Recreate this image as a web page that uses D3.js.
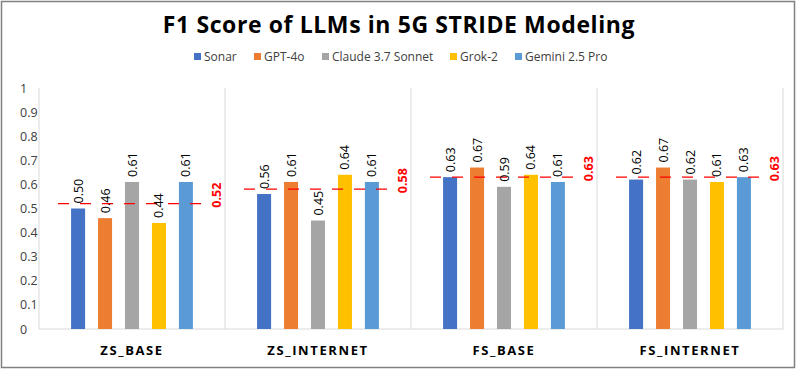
<!DOCTYPE html>
<html>
<head>
<meta charset="utf-8">
<script src="https://cdn.jsdelivr.net/npm/d3@7"></script>
<style>
  body { margin: 0; background: #fff; }
  text { font-family: "Open Sans", "DejaVu Sans", sans-serif; }
</style>
</head>
<body>
<div id="main"></div>
<script>
// data
const categories = ["ZS_BASE", "ZS_INTERNET", "FS_BASE", "FS_INTERNET"];
const models = ["Sonar", "GPT-4o", "Claude 3.7 Sonnet", "Grok-2", "Gemini 2.5 Pro"];
const sonar  = [0.50, 0.56, 0.63, 0.62];
const gpt4o  = [0.46, 0.61, 0.67, 0.67];
const claude = [0.61, 0.45, 0.59, 0.62];
const grok   = [0.44, 0.64, 0.64, 0.61];
const gemini = [0.61, 0.61, 0.61, 0.63];
const averages = [0.52, 0.58, 0.63, 0.63];
const yTicks = [0, 0.1, 0.2, 0.3, 0.4, 0.5, 0.6, 0.7, 0.8, 0.9, 1];

const series = [sonar, gpt4o, claude, grok, gemini];
const colors = ["#4472c4", "#ed7d31", "#a5a5a5", "#ffc000", "#5b9bd5"];

const width = 798, height = 370;
const margin = { top: 88, right: 15, bottom: 41, left: 39 };

const svg = d3.select("#main").append("svg")
  .attr("width", width)
  .attr("height", height);

// outer frame
svg.append("rect")
  .attr("x", 1.5).attr("y", 1.5)
  .attr("width", 793).attr("height", 366)
  .attr("fill", "none")
  .attr("stroke", "#808080")
  .attr("stroke-width", 1.5);

const x0 = d3.scaleBand()
  .domain(categories)
  .range([margin.left, width - margin.right]);

const x1 = d3.scaleBand()
  .domain(models)
  .range([0, x0.bandwidth()])
  .paddingInner(0.48)
  .paddingOuter(1.19);

const y = d3.scaleLinear()
  .domain([0, 1])
  .range([height - margin.bottom, margin.top]);

// title
svg.append("text")
  .attr("x", 399).attr("y", 33)
  .attr("text-anchor", "middle")
  .attr("font-size", "23px")
  .attr("font-weight", "bold")
  .attr("letter-spacing", "0.6px")
  .attr("fill", "#000")
  .text("F1 Score of LLMs in 5G STRIDE Modeling");

// legend
const legendX = [194, 254, 322, 450, 515];
const legend = svg.append("g").selectAll("g")
  .data(models)
  .join("g")
  .attr("transform", (d, i) => `translate(${legendX[i]},61)`);
legend.append("rect")
  .attr("x", 0).attr("y", -8)
  .attr("width", 7).attr("height", 7)
  .attr("fill", (d, i) => colors[i]);
legend.append("text")
  .attr("x", 10).attr("y", 0)
  .attr("font-size", "12px")
  .attr("fill", "#404040")
  .text(d => d);

// vertical separators
svg.append("g").selectAll("line")
  .data(d3.range(categories.length + 1))
  .join("line")
  .attr("x1", i => i < categories.length ? x0(categories[i]) : x0.range()[1])
  .attr("x2", i => i < categories.length ? x0(categories[i]) : x0.range()[1])
  .attr("y1", y(1)).attr("y2", y(0))
  .attr("stroke", "#d9d9d9");

// x baseline
svg.append("line")
  .attr("x1", margin.left).attr("x2", width - margin.right)
  .attr("y1", y(0)).attr("y2", y(0))
  .attr("stroke", "#d9d9d9");

// y axis, labels left-aligned
const yAxis = svg.append("g")
  .attr("transform", `translate(${margin.left},0)`)
  .call(d3.axisLeft(y).tickValues(yTicks).tickSize(0).tickFormat(d3.format("")));
yAxis.select(".domain").remove();
yAxis.selectAll("text")
  .attr("x", 20 - margin.left)
  .attr("text-anchor", "start")
  .attr("font-size", "12.5px")
  .attr("fill", "#404040")
  .style("font-family", "\"Open Sans\", sans-serif");

const groups = svg.append("g").selectAll("g")
  .data(categories)
  .join("g")
  .attr("transform", d => `translate(${x0(d)},0)`);

// bars
groups.selectAll("rect")
  .data((c, ci) => models.map((m, mi) => ({ m, mi, v: series[mi][ci] })))
  .join("rect")
  .attr("x", d => x1(d.m))
  .attr("y", d => y(d.v))
  .attr("width", x1.bandwidth())
  .attr("height", d => y(0) - y(d.v))
  .attr("fill", d => colors[d.mi]);

// average dashed line (over the bars)
groups.append("line")
  .attr("x1", x0.bandwidth() / 2 - 74)
  .attr("x2", x0.bandwidth() / 2 + 73)
  .attr("y1", (d, i) => y(averages[i]))
  .attr("y2", (d, i) => y(averages[i]))
  .attr("stroke", "#ff0000")
  .attr("stroke-width", 1.2)
  .attr("stroke-dasharray", "11,11");

// value labels (rotated)
groups.selectAll("text.val")
  .data((c, ci) => models.map((m, mi) => ({ m, mi, v: series[mi][ci] })))
  .join("text")
  .attr("class", "val")
  .attr("transform", d => `translate(${x1(d.m) + x1.bandwidth() / 2 + 4.5},${y(d.v) - 5}) rotate(-90)`)
  .attr("font-size", "12.5px")
  .attr("fill", "#000")
  .text(d => d3.format(".2f")(d.v));

// average labels
groups.append("text")
  .attr("transform", (d, i) => `translate(${x0.bandwidth() - 4},${y(averages[i]) + 4}) rotate(-90)`)
  .attr("font-size", "12.5px")
  .attr("font-weight", "bold")
  .attr("fill", "#ff0000")
  .text((d, i) => d3.format(".2f")(averages[i]));

// category labels
svg.append("g").selectAll("text")
  .data(categories)
  .join("text")
  .attr("x", d => x0(d) + x0.bandwidth() / 2)
  .attr("y", 355)
  .attr("text-anchor", "middle")
  .attr("font-size", "13px")
  .attr("font-weight", "bold")
  .attr("letter-spacing", "1.6px")
  .attr("fill", "#000")
  .text(d => d);
</script>
</body>
</html>
